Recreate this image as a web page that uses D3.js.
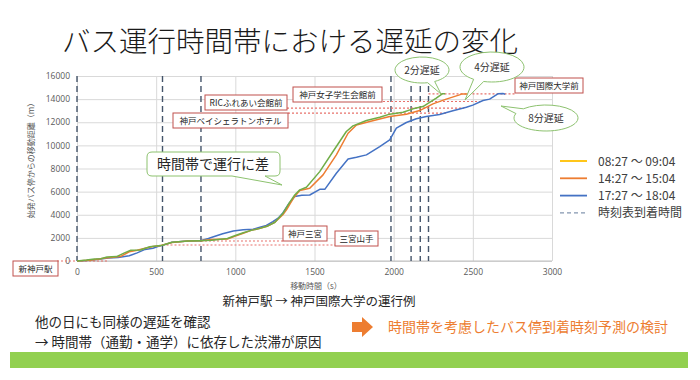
<!DOCTYPE html>
<html><head><meta charset="utf-8">
<script src="https://cdn.jsdelivr.net/npm/d3@7"></script>
<style>
html,body{margin:0;padding:0;background:#fff;}
svg{display:block;font-family:"Noto Sans CJK JP","Noto Sans",sans-serif;}
</style></head>
<body><svg id="c" width="700" height="380"></svg>
<script>
// ---- data ----
const xTicks = [0, 500, 1000, 1500, 2000, 2500, 3000];
const yTicks = [0, 2000, 4000, 6000, 8000, 10000, 12000, 14000, 16000];
const seriesNames = ["08:27 ～ 09:04", "14:27 ～ 15:04", "17:27 ～ 18:04"];
const morning = [[0,0],[60,80],[110,180],[150,200],[190,350],[250,380],[300,700],[340,930],[400,950],[460,1230],[500,1300],[540,1370],[600,1620],[700,1720],[780,1760],[850,1800],[950,1950],[1000,2200],[1050,2450],[1100,2650],[1150,2800],[1200,3000],[1250,3350],[1300,4100],[1340,5000],[1375,5710],[1407,6150],[1449,6380],[1533,7730],[1617,9470],[1701,11200],[1743,11690],[1828,12150],[1912,12440],[1975,12700],[2059,12870],[2122,13160],[2185,13360],[2269,14090],[2307,14460],[2325,14460]];
const afternoon = [[0,0],[80,60],[130,150],[180,250],[230,330],[280,420],[330,800],[380,930],[430,1100],[480,1250],[530,1350],[600,1600],[700,1720],[780,1760],[850,1850],[950,1900],[1000,2150],[1050,2400],[1100,2650],[1150,2800],[1200,3000],[1250,3350],[1300,4000],[1323,4420],[1370,5500],[1407,6100],[1470,6290],[1554,7450],[1638,9180],[1712,11050],[1765,11770],[1849,12060],[1975,12500],[2080,12700],[2164,13010],[2248,13590],[2332,14000],[2416,14370],[2430,14450],[2468,14450]];
const evening = [[0,0],[60,50],[120,120],[200,250],[260,300],[330,450],[380,700],[430,1000],[480,1100],[510,1250],[540,1350],[600,1620],[700,1720],[780,1760],[830,1950],[862,2100],[920,2350],[987,2600],[1050,2700],[1112,2740],[1150,2900],[1196,3070],[1237,3400],[1270,3700],[1300,4150],[1340,5000],[1375,5570],[1420,5680],[1470,5710],[1533,6200],[1565,6200],[1638,7590],[1712,8830],[1765,8980],[1828,9180],[1912,9900],[1975,10480],[2017,11490],[2080,11980],[2143,12300],[2206,12500],[2290,12670],[2374,12990],[2459,13300],[2500,13480],[2564,13880],[2606,14000],[2658,14460],[2690,14480],[2705,14420]];
const timetableTimes = [0, 540, 783, 1983, 2110, 2168, 2220];
const stopNames = ["新神戸駅", "三宮山手", "神戸三宮", "神戸ベイシェラトンホテル", "RICふれあい会館前", "神戸女子学生会館前", "神戸国際大学前"];
const stopDistances = [0, 1385, 1730, 12790, 13220, 13800, 14450];
const delayLabels = ["2分遅延", "4分遅延", "8分遅延"];

// ---- drawing ----
const svg = d3.select("#c");
const x = d3.scaleLinear().domain([0, 3000]).range([77, 552]);
const y = d3.scaleLinear().domain([0, 16000]).range([261, 76]);
const lineColors = ["#70AD47", "#ED7D31", "#4472C4"];
const legendColors = ["#FFC000", "#ED7D31", "#4472C4"];

// title
svg.append("text").attr("x", 62).attr("y", 52).attr("font-size", 28.5).attr("fill", "#1a1a1a")
  .attr("font-weight", 300).text("バス運行時間帯における遅延の変化");

// grid + axes
const gy = svg.append("g").attr("transform", `translate(${x(0)},0)`)
  .call(d3.axisLeft(y).tickValues(yTicks).tickFormat(d3.format("d")).tickSize(-(x(3000) - x(0))).tickPadding(7));
gy.select(".domain").remove();
gy.selectAll(".tick line").attr("stroke", "#D9D9D9");
gy.selectAll(".tick text").attr("fill", "#595959").attr("font-size", 8.5).attr("font-family", "Open Sans, sans-serif");
const gx = svg.append("g").attr("transform", `translate(0,${y(0)})`)
  .call(d3.axisBottom(x).tickValues(xTicks).tickFormat(d3.format("d")).tickSize(-(y(0) - y(16000))).tickPadding(8));
gx.select(".domain").remove();
gx.selectAll(".tick line").attr("stroke", "#D9D9D9");
gx.selectAll(".tick text").attr("fill", "#595959").attr("font-size", 8.5).attr("font-family", "Open Sans, sans-serif");
svg.append("line").attr("x1", x(0)).attr("x2", x(3000)).attr("y1", y(0)).attr("y2", y(0)).attr("stroke", "#BFBFBF");

// axis titles
svg.append("text").attr("transform", `translate(34,${(y(0)+y(16000))/2 - 10}) rotate(-90)`)
  .attr("text-anchor", "middle").attr("font-size", 8).attr("fill", "#595959").text("始発バス停からの移動距離（m）");
svg.append("text").attr("x", 316).attr("y", 289).attr("text-anchor", "middle").attr("font-size", 8)
  .attr("fill", "#595959").text("移動時間（s）");

// timetable vertical dashed lines
svg.append("g").selectAll("line").data(timetableTimes).join("line")
  .attr("x1", d => x(d)).attr("x2", d => x(d)).attr("y1", y(16000)).attr("y2", y(0))
  .attr("stroke", "#44546A").attr("stroke-width", 1.4).attr("stroke-dasharray", "6,4");

// station dotted lines (from box to reference point)
const dotted = [
  [57, x(200)], [x(540), 335], [x(783), 283], [288, x(2330)], [287, x(2445)], [383, x(2560)], [x(2220), 515]
];
svg.append("g").selectAll("line").data(stopDistances).join("line")
  .attr("x1", (d, i) => dotted[i][0]).attr("x2", (d, i) => dotted[i][1])
  .attr("y1", d => y(d)).attr("y2", d => y(d))
  .attr("stroke", "#E8716B").attr("stroke-width", 1.1).attr("stroke-dasharray", "2,2");

// series lines
const line = d3.line().x(d => x(d[0])).y(d => y(d[1]));
[evening, afternoon, morning].forEach((s, k) => {
  const idx = 2 - k;
  svg.append("path").datum(s).attr("d", line).attr("fill", "none")
    .attr("stroke", lineColors[idx]).attr("stroke-width", 1.5).attr("stroke-linejoin", "round");
});

// station label boxes
const boxes = [
  {x: 13, y: 261, w: 45, h: 15},
  {x: 335, y: 231, w: 43, h: 15},
  {x: 283, y: 226, w: 44, h: 15},
  {x: 173, y: 113, w: 115, h: 15},
  {x: 205, y: 95, w: 82, h: 15},
  {x: 293, y: 87, w: 89, h: 15},
  {x: 515, y: 78, w: 68, h: 15}
];
const bg = svg.append("g");
stopNames.forEach((n, i) => {
  const b = boxes[i];
  bg.append("rect").attr("x", b.x).attr("y", b.y).attr("width", b.w).attr("height", b.h)
    .attr("fill", "#fff").attr("stroke", "#C0504D").attr("stroke-width", 1);
  bg.append("text").attr("x", b.x + b.w / 2).attr("y", b.y + b.h / 2 + 3).attr("text-anchor", "middle")
    .attr("font-size", 8.5).attr("fill", "#262626").text(n);
});

// callout: 時間帯で運行に差
const cg = svg.append("g");
cg.append("path").attr("d", "M152,152 H275 Q280,152 280,157 V171 Q280,176 275,176 H265 L282,185 L232,176 H152 Q147,176 147,171 V157 Q147,152 152,152 Z")
  .attr("fill", "#fff").attr("stroke", "#8DC26F").attr("stroke-width", 1);
cg.append("text").attr("x", 213).attr("y", 169).attr("text-anchor", "middle").attr("font-size", 14)
  .attr("fill", "#262626").text("時間帯で運行に差");

// delay ellipses
const ells = [
  {cx: 422, cy: 70, rx: 27, ry: 13, tip: [441, 94], a1: 62, a2: 78},
  {cx: 492, cy: 67, rx: 32, ry: 15, tip: [465, 100], a1: 105, a2: 125},
  {cx: 546, cy: 118, rx: 32, ry: 13, tip: [501, 106], a1: 200, a2: 225}
];
ells.forEach((e, i) => {
  const p = a => [e.cx + e.rx * Math.cos(a * Math.PI / 180), e.cy + e.ry * Math.sin(a * Math.PI / 180)];
  const p1 = p(e.a1), p2 = p(e.a2);
  const path = `M${p2[0]},${p2[1]} A${e.rx},${e.ry} 0 1 1 ${p1[0]},${p1[1]} L${e.tip[0]},${e.tip[1]} Z`;
  cg.append("path").attr("d", path).attr("fill", "#fff").attr("stroke", "#8DC26F").attr("stroke-width", 1);
  cg.append("text").attr("x", e.cx).attr("y", e.cy + 4).attr("text-anchor", "middle").attr("font-size", 10)
    .attr("fill", "#333").text(delayLabels[i]);
});

// legend
const lg = svg.append("g");
const legRows = seriesNames.concat(["時刻表到着時間"]);
legRows.forEach((n, i) => {
  const yy = 161 + i * 17.3;
  lg.append("line").attr("x1", 560).attr("x2", 587).attr("y1", yy).attr("y2", yy)
    .attr("stroke", i < 3 ? legendColors[i] : "#8496B0").attr("stroke-width", i < 3 ? 1.8 : 1.2)
    .attr("stroke-dasharray", i < 3 ? null : "4,3");
  lg.append("text").attr("x", 598).attr("y", yy + 4.5).attr("font-size", 12).attr("fill", "#404040").text(n);
});

// captions
svg.append("text").attr("x", 319).attr("y", 306).attr("text-anchor", "middle").attr("font-size", 12.5)
  .attr("fill", "#262626").text("新神戸駅 → 神戸国際大学の運行例");
svg.append("text").attr("x", 35).attr("y", 327).attr("font-size", 13.5).attr("fill", "#262626").text("他の日にも同様の遅延を確認");
svg.append("text").attr("x", 35).attr("y", 346.5).attr("font-size", 13.5).attr("fill", "#262626").text("→ 時間帯（通勤・通学）に依存した渋滞が原因");
svg.append("path").attr("d", "M352,322 H362 V317 L373,327 L362,337 V332 H352 Z").attr("fill", "#ED7D31");
svg.append("text").attr("x", 388).attr("y", 332).attr("font-size", 14).attr("fill", "#ED7D31").text("時間帯を考慮したバス停到着時刻予測の検討");
svg.append("rect").attr("x", 10).attr("y", 352).attr("width", 678).attr("height", 16).attr("fill", "#92D050");
</script></body></html>
